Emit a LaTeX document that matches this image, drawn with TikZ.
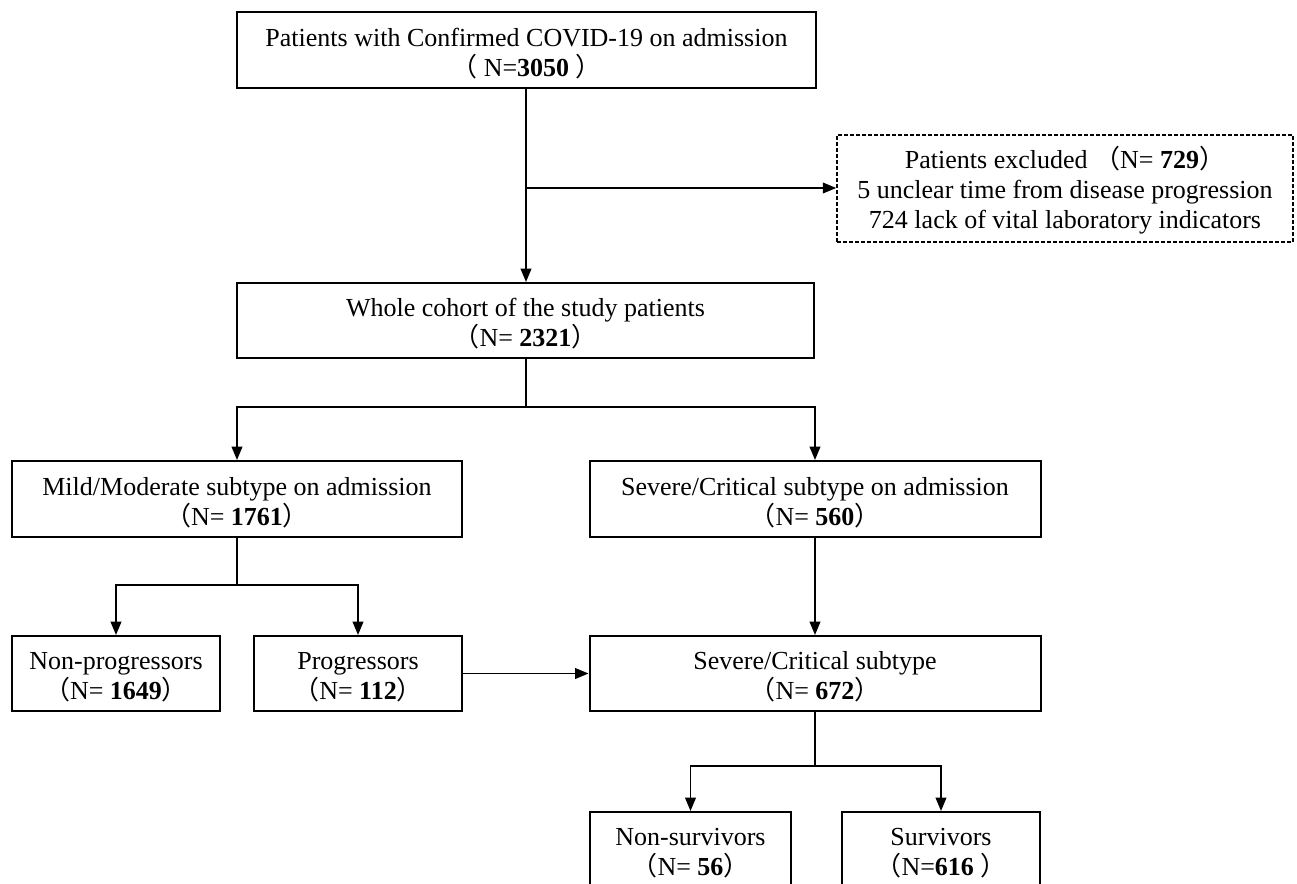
\documentclass[tikz,border=0pt]{standalone}
\usepackage{fontspec}
\setmainfont{Liberation Serif}
\newfontfamily\cjk{Noto Sans CJK SC}
\usetikzlibrary{arrows.meta}
\newcommand\LPb{{\cjk （}}
\newcommand\RPb{{\cjk ）}}
\newcommand\TopR{\rule{0pt}{19pt}}
\begin{document}
\begin{tikzpicture}[x=0.75pt,y=-0.75pt,
  box/.style={draw,line width=1.5pt,align=center,inner sep=0pt,
    font=\fontsize{19.5}{22.5}\selectfont},
  exbox/.style={box,line width=1.2pt,dashed,dash pattern=on 3pt off 1.5pt},
  conn/.style={line width=1.2pt},
  arr/.style={conn,-{Triangle[length=10pt,width=8pt]}}]
\clip (0,0) rectangle (1297,884);
\fill[white] (0,0) rectangle (1297,884);
\node[box,minimum width=579*0.75pt,minimum height=76*0.75pt] (b1) at (526.5,50)
  {\TopR Patients with Confirmed COVID-19 on admission\\\LPb\ N=\textbf{3050} \RPb};
\node[exbox,minimum width=456*0.75pt,minimum height=107*0.75pt] (ex) at (1065,188.5)
  {\TopR Patients excluded \LPb N= \textbf{729}\RPb\\5 unclear time from disease progression\\724 lack of vital laboratory indicators};
\node[box,minimum width=577*0.75pt,minimum height=75*0.75pt] (b2) at (525.5,320.5)
  {\TopR Whole cohort of the study patients\\\LPb N= \textbf{2321}\RPb};
\node[box,minimum width=450*0.75pt,minimum height=76*0.75pt] (b3) at (237,499)
  {\TopR Mild/Moderate subtype on admission\\\LPb N= \textbf{1761}\RPb};
\node[box,minimum width=451*0.75pt,minimum height=76*0.75pt] (b4) at (815,499)
  {\TopR Severe/Critical subtype on admission\\\LPb N= \textbf{560}\RPb};
\node[box,minimum width=208*0.75pt,minimum height=75*0.75pt] (b5) at (116,673.5)
  {\TopR Non-progressors\\\LPb N= \textbf{1649}\RPb};
\node[box,minimum width=208*0.75pt,minimum height=75*0.75pt] (b6) at (358,673.5)
  {\TopR Progressors\\\LPb N= \textbf{112}\RPb};
\node[box,minimum width=451*0.75pt,minimum height=75*0.75pt] (b7) at (815,673.5)
  {\TopR Severe/Critical subtype\\\LPb N= \textbf{672}\RPb};
\node[box,minimum width=201*0.75pt,minimum height=75*0.75pt] (b8) at (690.5,849.5)
  {\TopR Non-survivors\\\LPb N= \textbf{56}\RPb};
\node[box,minimum width=198*0.75pt,minimum height=75*0.75pt] (b9) at (941,849.5)
  {\TopR Survivors\\\LPb N=\textbf{616} \RPb};
% connectors
\coordinate (j1) at (526,188);
\draw[arr] (b1.south -| j1) -- (b2.north -| j1);
\draw[arr] (j1) -- (ex.west |- j1);
\coordinate (j2) at (526,407);
\draw[conn] (b2.south -| j2) -- (j2);
\draw[arr] (j2) -| (b3.north);
\draw[arr] (j2) -| (b4.north);
\coordinate (j3) at (237,585);
\draw[conn] (b3.south) -- (j3);
\draw[arr] (j3) -| (b5.north);
\draw[arr] (j3) -| (b6.north);
\draw[arr] (b6.east) -- (b7.west);
\draw[arr] (b4.south) -- (b7.north);
\coordinate (j4) at (815,766);
\draw[conn] (b7.south) -- (j4);
\draw[arr] (j4) -| (b8.north);
\draw[arr] (j4) -| (b9.north);
\end{tikzpicture}
\end{document}
